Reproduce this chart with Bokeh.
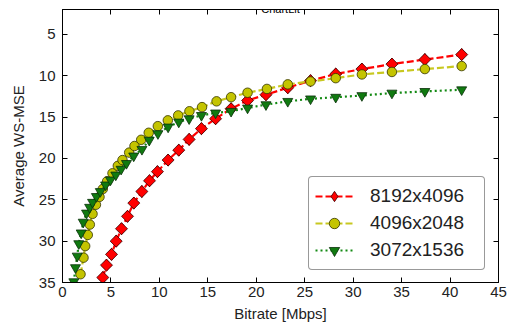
import math
from bokeh.plotting import figure
from bokeh.models import Range1d, LinearAxis, FixedTicker, Legend, LegendItem, Label
from bokeh.embed import file_html
from bokeh.resources import INLINE

# ---- data ----
series_names = ["8192x4096", "4096x2048", "3072x1536"]

red_x = [4.16, 4.54, 5.06, 5.54, 6.09, 6.71, 7.36, 8.19, 8.98, 9.80, 10.9, 12.0, 13.07,
         14.34, 15.8, 17.4, 19.1, 21.0, 23.25, 25.6, 28.2, 30.9, 34.0, 37.4, 41.2]
red_y = [34.4, 32.9, 31.6, 30.0, 28.5, 27.0, 25.4, 24.0, 22.7, 21.6, 20.2, 19.0, 17.7,
         16.4, 15.2, 14.0, 13.0, 12.3, 11.45, 10.6, 9.8, 9.2, 8.6, 8.05, 7.45]

yel_x = [1.86, 2.17, 2.34, 2.61, 2.82, 3.1, 3.45, 3.82, 4.16, 4.61, 5.16, 5.71, 6.19, 6.88,
         7.43, 8.12, 8.9, 9.84, 10.87, 11.94, 13.1, 14.4, 15.9, 17.4, 19.1, 21.1, 23.25,
         25.6, 28.2, 30.9, 34.0, 37.4, 41.2]
yel_y = [34.0, 32.0, 30.6, 29.25, 28.0, 26.7, 25.6, 24.65, 23.7, 22.76, 21.8, 20.9, 20.2,
         19.3, 18.5, 17.75, 16.9, 16.1, 15.4, 14.8, 14.3, 13.8, 13.1, 12.6, 12.06, 11.6,
         11.05, 10.7, 10.3, 9.85, 9.55, 9.2, 8.84]

grn_x = [1.17, 1.34, 1.52, 1.68, 1.93, 2.14, 2.48, 2.8, 3.1, 3.5, 3.9, 4.45, 4.95, 5.5,
         6.05, 6.6, 7.35, 8.2, 8.95, 9.85, 10.9, 12.0, 13.07, 14.34, 15.8, 17.4, 19.1,
         21.0, 23.25, 25.6, 28.2, 30.9, 34.0, 37.4, 41.2]
grn_y = [34.9, 33.2, 31.8, 30.3, 29.0, 27.7, 26.6, 25.9, 25.3, 24.6, 24.0, 23.2, 22.6,
         22.0, 21.3, 20.6, 19.7, 18.9, 17.8, 17.0, 16.2, 15.6, 15.2, 14.8, 14.5, 14.3,
         13.9, 13.5, 13.1, 12.8, 12.6, 12.4, 12.1, 11.9, 11.7]

x_ticks = [0, 5, 10, 15, 20, 25, 30, 35, 40, 45]
y_ticks = [5, 10, 15, 20, 25, 30, 35]

FONT = "Liberation Sans"

p = figure(width=508, height=325, output_backend="svg", toolbar_location=None,
           x_range=Range1d(0, 45), y_range=Range1d(35, 2),
           min_border_left=62, min_border_right=10, min_border_top=9, min_border_bottom=43)
p.background_fill_color = "white"
p.border_fill_color = "white"
p.outline_line_color = "black"
p.outline_line_width = 1
p.xgrid.visible = False
p.ygrid.visible = False

def style_axis(ax, ticks, labels=True):
    ax.ticker = FixedTicker(ticks=ticks)
    ax.major_tick_in = 5
    ax.major_tick_out = 0
    ax.minor_tick_in = 0
    ax.minor_tick_out = 0
    ax.axis_line_color = "black"
    ax.major_tick_line_color = "black"
    ax.major_label_text_font = FONT
    ax.major_label_text_color = "#222222"
    if labels:
        ax.major_label_text_font_size = "15px"
        ax.major_label_standoff = 4
    else:
        ax.major_label_overrides = {t: "" for t in ticks}
        ax.major_label_text_font_size = "1px"
        ax.major_label_standoff = 0
    ax.axis_label_text_font = FONT
    ax.axis_label_text_font_size = "15px"
    ax.axis_label_text_font_style = "normal"
    ax.axis_label_text_color = "#222222"

style_axis(p.xaxis[0], x_ticks)
style_axis(p.yaxis[0], y_ticks)
p.xaxis[0].axis_label = "Bitrate [Mbps]"
p.xaxis[0].axis_label_standoff = 5
p.yaxis[0].axis_label = "Average WS-MSE"
p.yaxis[0].major_label_standoff = 7
p.yaxis[0].axis_label_standoff = 9

top_ax = LinearAxis()
style_axis(top_ax, x_ticks, labels=False)
p.add_layout(top_ax, "above")
right_ax = LinearAxis()
style_axis(right_ax, y_ticks, labels=False)
p.add_layout(right_ax, "right")

items = []
# red diamonds, dashed
l1 = p.line(red_x, red_y, line_color="#ff0000", line_width=2.2, line_dash="7 3")
# narrower diamond hidden under the rotated squares; it supplies the legend glyph
leg1 = p.scatter(red_x, red_y, marker="diamond", size=12,
                 fill_color="#ff0000", line_color="#3a0000", line_width=0.8)
m1 = p.scatter(red_x, red_y, marker="square", angle=math.pi / 4, size=8.5,
               fill_color="#ff0000", line_color="#3a0000", line_width=0.8)
items.append(LegendItem(label=series_names[0], renderers=[l1, leg1]))
# yellow circles, dashed
l2 = p.line(yel_x, yel_y, line_color="#c8c820", line_width=2.2, line_dash="7 3")
m2 = p.scatter(yel_x, yel_y, marker="circle", size=9.5,
               fill_color="#c4c400", line_color="#333300", line_width=0.8)
items.append(LegendItem(label=series_names[1], renderers=[l2, m2]))
# green triangles, dotted
l3 = p.line(grn_x, grn_y, line_color="#138a13", line_width=2.2, line_dash="2 3")
m3 = p.scatter(grn_x, grn_y, marker="inverted_triangle", size=10,
               fill_color="#107a10", line_color="#0a300a", line_width=0.8)
items.append(LegendItem(label=series_names[2], renderers=[l3, m3]))

legend = Legend(items=items, location=(246, 12))
legend.label_text_font = FONT
legend.label_text_font_size = "19px"
legend.label_text_color = "#222222"
legend.glyph_width = 38
legend.glyph_height = 26
legend.label_height = 22
legend.label_width = 108
legend.label_standoff = 17
legend.spacing = 1
legend.padding = 6
legend.margin = 0
legend.border_line_color = "#333333"
legend.border_line_width = 1
legend.border_radius = 4
legend.background_fill_color = "white"
legend.background_fill_alpha = 1
p.add_layout(legend, "center")

title = Label(x=22.5, y=1.92, text="ChartLit", text_align="center",
              text_baseline="alphabetic", text_font=FONT, text_font_size="11px",
              text_color="#000000", level="overlay")
p.add_layout(title)

open("out.html", "w").write(file_html(p, INLINE))
